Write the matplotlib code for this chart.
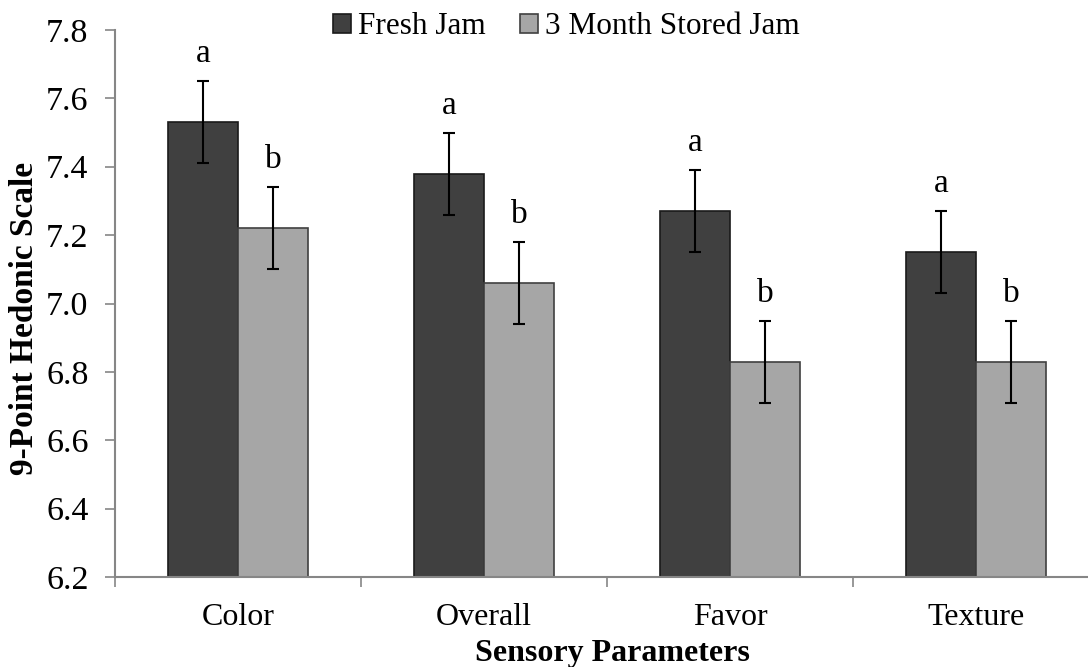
import matplotlib
matplotlib.use("Agg")
import matplotlib.pyplot as plt
import numpy as np

categories = ["Color", "Overall", "Favor", "Texture"]
fresh = [7.53, 7.38, 7.27, 7.15]
stored = [7.22, 7.06, 6.83, 6.83]
fresh_err = [0.12, 0.12, 0.12, 0.12]
stored_err = [0.12, 0.12, 0.12, 0.12]
fresh_letters = ["a", "a", "a", "a"]
stored_letters = ["b", "b", "b", "b"]
yticks = [6.2, 6.4, 6.6, 6.8, 7.0, 7.2, 7.4, 7.6, 7.8]

plt.rcParams['font.family'] = ['Liberation Serif', 'DejaVu Serif']

fig = plt.figure(figsize=(10.88, 6.67), dpi=100)
ax = fig.add_axes([115/1088, 1-577/667, (1099-115)/1088, (577-30)/667])

x = np.arange(len(categories))
w = 0.285
b1 = ax.bar(x - w/2, fresh, w, color="#404040", edgecolor="#1a1a1a", linewidth=1.2,
            label="Fresh Jam", zorder=2)
b2 = ax.bar(x + w/2, stored, w, color="#a6a6a6", edgecolor="#404040", linewidth=1.2,
            label="3 Month Stored Jam", zorder=2)
ax.errorbar(x - w/2, fresh, yerr=fresh_err, fmt="none", ecolor="black", elinewidth=1.5,
            capsize=4.5, capthick=1.5, zorder=3)
ax.errorbar(x + w/2, stored, yerr=stored_err, fmt="none", ecolor="black", elinewidth=1.5,
            capsize=4.5, capthick=1.5, zorder=3)
for i in range(len(categories)):
    ax.text(x[i] - w/2, fresh[i] + fresh_err[i] + 0.035, fresh_letters[i], ha="center",
            va="bottom", fontsize=24)
    ax.text(x[i] + w/2, stored[i] + stored_err[i] + 0.035, stored_letters[i], ha="center",
            va="bottom", fontsize=24)

ax.set_ylim(6.2, 7.8)
ax.set_xlim(-0.5, len(categories) - 0.5)
ax.set_yticks(yticks)
ax.set_yticklabels([f"{v:.1f}" for v in yticks], fontsize=24.5)
ax.set_xticks(x)
ax.set_xticklabels(categories, fontsize=23)
ax.tick_params(axis="x", length=0, pad=19)
ax.tick_params(axis="y", length=7, width=1.2, color="#868686", pad=12)
# category boundary ticks
ax.set_xticks(np.arange(-0.5, len(categories) + 0.5, 1.0), minor=True)
ax.tick_params(axis="x", which="minor", length=7, width=1.2, color="#868686", direction="out")
for s in ["top", "right"]:
    ax.spines[s].set_visible(False)
for s in ["left", "bottom"]:
    ax.spines[s].set_color("#868686")
    ax.spines[s].set_linewidth(1.5)

ax.set_ylabel("9-Point Hedonic Scale", fontsize=24, fontweight="bold")
ax.set_xlabel("Sensory Parameters", fontsize=23, fontweight="bold")
ax_w = (1099 - 115)
ax_h = (577 - 30)
ax.yaxis.set_label_coords((25 - 115) / ax_w, (577 - 318) / ax_h)
ax.xaxis.set_label_coords((612 - 115) / ax_w, (577 - 653) / ax_h)
ax.xaxis.label.set_va("center")
ax.yaxis.label.set_va("center")

leg = fig.legend(handles=[b1, b2], loc="center", bbox_to_anchor=(566/1088, 1-27/667), ncol=2,
                 frameon=False, fontsize=22.5, handlelength=0.6, handleheight=0.6,
                 handletextpad=0.2, columnspacing=1.1)

fig.savefig("out.png", dpi=100)
